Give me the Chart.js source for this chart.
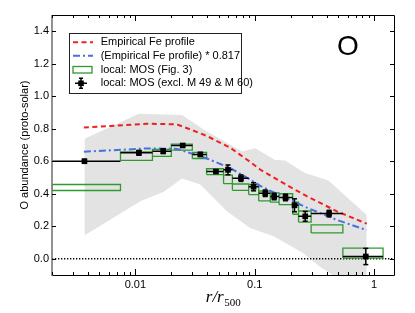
<!DOCTYPE html>
<html><head><meta charset="utf-8">
<script src="https://cdn.jsdelivr.net/npm/chart.js@4/dist/chart.umd.min.js"></script>
<style>html,body{margin:0;padding:0;background:#fff}#wrap{width:415px;height:313px}</style>
</head><body><div id="wrap"><canvas id="c" width="415" height="313"></canvas></div>
<script>
// ---- data ----
const binX   = [0.00374,0.0107,0.0171,0.0249,0.0350,0.0473,0.0597,0.0767,0.0978,0.1225,0.1455,0.181,0.2155,0.265,0.42,0.853];
const binLo  = [0.0020,0.0075,0.0139,0.0200,0.0300,0.0395,0.0548,0.0650,0.0890,0.1080,0.1350,0.1600,0.2080,0.2330,0.2970,0.548];
const binHi  = [0.0075,0.0139,0.0200,0.0300,0.0395,0.0548,0.0650,0.0890,0.1080,0.1350,0.1600,0.2080,0.2330,0.2970,0.548,1.19];
const mosY   = [0.600,0.652,0.662,0.697,0.642,0.537,0.547,0.496,0.443,0.403,0.383,0.377,0.329,0.261,0.278,0.014];
const mosErr = [0.012,0.015,0.015,0.010,0.012,0.010,0.030,0.020,0.025,0.020,0.020,0.020,0.040,0.030,0.020,0.050];
const figLo  = [0.420,0.605,0.630,0.668,0.617,0.518,0.462,0.421,0.395,0.356,0.348,0.333,0.274,0.226,0.159,0.004];
const figHi  = [0.457,0.657,0.673,0.706,0.655,0.554,0.515,0.460,0.457,0.417,0.405,0.400,0.349,0.294,0.209,0.066];
const feX    = [0.0037,0.0062,0.0125,0.0223,0.0288,0.0398,0.0624,0.0757,0.0917,0.111,0.163,0.273,0.488,0.869];
const feY    = [0.807,0.817,0.831,0.827,0.796,0.755,0.683,0.639,0.596,0.549,0.477,0.385,0.292,0.216];
const feScaledY = [0.659,0.667,0.679,0.676,0.650,0.617,0.558,0.522,0.487,0.449,0.390,0.315,0.239,0.176];
const bandUpX = [0.00374,0.0107,0.0246,0.0373,0.0782,0.101,0.148,0.180,0.264,0.414,0.869];
const bandUpY = [0.739,0.893,0.884,0.796,0.660,0.680,0.608,0.604,0.527,0.482,0.270];
const bandLoX = [0.00374,0.0110,0.0173,0.0246,0.0350,0.0585,0.0915,0.144,0.254,0.350,0.450,0.869];
const bandLoY = [0.143,0.354,0.412,0.494,0.457,0.292,0.189,0.138,0.035,-0.048,-0.100,-0.250];
const xTickValues = [0.01,0.1,1];
const xTickLabels = ['0.01','0.1','1'];
const yTickValues = [0,0.2,0.4,0.6,0.8,1.0,1.2,1.4];
const legendLabels = ['Empirical Fe profile','(Empirical Fe profile) * 0.817','local: MOS (Fig. 3)','local: MOS (excl. M 49 & M 60)'];

const SANS = "'Liberation Sans', Arial, Helvetica, sans-serif";
const pts = (xs, ys) => xs.map((x, i) => ({x, y: ys[i]}));

const hBars = [], vBars = [], caps = [], boxes = [];
binX.forEach((x, i) => {
  hBars.push({x: binLo[i], y: mosY[i]}, {x: binHi[i], y: mosY[i]}, {x: binHi[i], y: null});
  vBars.push({x, y: mosY[i] - mosErr[i]}, {x, y: mosY[i] + mosErr[i]}, {x, y: null});
  caps.push({x, y: mosY[i] - mosErr[i]}, {x, y: mosY[i] + mosErr[i]});
  boxes.push({x: binLo[i], y: figLo[i]}, {x: binHi[i], y: figLo[i]}, {x: binHi[i], y: figHi[i]},
             {x: binLo[i], y: figHi[i]}, {x: binLo[i], y: figLo[i]}, {x: binHi[i], y: null});
});

const line = (o) => Object.assign({showLine: true, pointRadius: 0, fill: false, spanGaps: false, tension: 0}, o);

const deco = {
  id: 'deco',
  afterDraw(chart) {
    const {ctx, chartArea: a, scales: {x, y}} = chart;
    ctx.save();
    // frame
    ctx.strokeStyle = '#000'; ctx.lineWidth = 1;
    ctx.beginPath();
    ctx.moveTo(a.left, a.top + 0.5); ctx.lineTo(a.right + 0.5, a.top + 0.5);
    ctx.lineTo(a.right + 0.5, a.bottom + 0.5); ctx.lineTo(a.left, a.bottom + 0.5);
    ctx.stroke();
    ctx.strokeStyle = '#777'; ctx.lineWidth = 1.6;
    ctx.beginPath(); ctx.moveTo(a.left, a.top); ctx.lineTo(a.left, a.bottom + 1); ctx.stroke();
    // inside ticks
    ctx.strokeStyle = '#000'; ctx.lineWidth = 1;
    ctx.beginPath();
    yTickValues.forEach(v => {
      const py = Math.round(y.getPixelForValue(v)) + 0.5;
      ctx.moveTo(a.left, py); ctx.lineTo(a.left + 4, py);
      ctx.moveTo(a.right, py); ctx.lineTo(a.right - 4, py);
    });
    for (let e = -3; e <= 0; e++) {
      for (let m = 1; m <= 9; m++) {
        const v = m * Math.pow(10, e);
        if (v < x.min || v > x.max) continue;
        const px = Math.round(x.getPixelForValue(v)) + 0.5;
        const len = m === 1 ? 6 : 3;
        ctx.moveTo(px, a.bottom); ctx.lineTo(px, a.bottom - len);
        ctx.moveTo(px, a.top); ctx.lineTo(px, a.top + len);
      }
    }
    ctx.stroke();
    // axis titles
    ctx.fillStyle = '#000';
    ctx.font = '11px ' + SANS;
    ctx.textAlign = 'center'; ctx.textBaseline = 'middle';
    ctx.save();
    ctx.translate(25, (a.top + a.bottom) / 2);
    ctx.rotate(-Math.PI / 2);
    ctx.fillText('O abundance (proto-solar)', 0, 0);
    ctx.restore();
    const cx = (a.left + a.right) / 2;
    ctx.font = "italic 17px 'Liberation Serif', 'Times New Roman', serif";
    const w1 = ctx.measureText('r/r').width;
    ctx.font = "11px 'Liberation Serif', 'Times New Roman', serif";
    const w2 = ctx.measureText('500').width;
    const sx = cx - (w1 + w2) / 2;
    ctx.textAlign = 'left'; ctx.textBaseline = 'alphabetic';
    ctx.font = "italic 17px 'Liberation Serif', 'Times New Roman', serif";
    ctx.fillText('r/r', sx, 302);
    ctx.font = "11px 'Liberation Serif', 'Times New Roman', serif";
    ctx.fillText('500', sx + w1 + 0.5, 306);
    // big element label
    ctx.font = '28px ' + SANS;
    ctx.textAlign = 'center'; ctx.textBaseline = 'middle';
    ctx.fillText('O', 348, 47);
    // legend
    ctx.fillStyle = '#fff';
    ctx.fillRect(69, 33, 172, 60);
    ctx.strokeStyle = '#222'; ctx.lineWidth = 1;
    ctx.strokeRect(69.5, 33.5, 172, 60);
    const rows = [42.3, 55.7, 69.7, 83.3];
    const ix0 = 73, ix1 = 93;
    ctx.lineWidth = 2; ctx.strokeStyle = '#f02020'; ctx.setLineDash([5, 3.5]);
    ctx.beginPath(); ctx.moveTo(ix0, rows[0]); ctx.lineTo(ix1, rows[0]); ctx.stroke();
    ctx.strokeStyle = '#4a6fe0'; ctx.setLineDash([7, 3, 2, 3]);
    ctx.beginPath(); ctx.moveTo(ix0, rows[1]); ctx.lineTo(ix1, rows[1]); ctx.stroke();
    ctx.setLineDash([]);
    ctx.strokeStyle = '#2f9a2f'; ctx.lineWidth = 1.3;
    ctx.strokeRect(73, 66.5, 19, 6.5);
    ctx.strokeStyle = '#000'; ctx.lineWidth = 1.5;
    ctx.beginPath();
    ctx.moveTo(75, rows[3]); ctx.lineTo(87, rows[3]);
    ctx.moveTo(81, rows[3] - 5); ctx.lineTo(81, rows[3] + 5);
    ctx.moveTo(79, rows[3] - 5); ctx.lineTo(83, rows[3] - 5);
    ctx.moveTo(79, rows[3] + 5); ctx.lineTo(83, rows[3] + 5);
    ctx.stroke();
    ctx.fillStyle = '#000';
    ctx.fillRect(78.2, rows[3] - 2.8, 5.6, 5.6);
    ctx.font = '11px ' + SANS;
    ctx.textAlign = 'left'; ctx.textBaseline = 'middle';
    legendLabels.forEach((t, i) => ctx.fillText(t, 100.7, rows[i]));
    ctx.restore();
  }
};

new Chart(document.getElementById('c'), {
  type: 'scatter',
  data: {
    datasets: [
      {label: legendLabels[3], data: pts(binX, mosY), pointStyle: 'rect', pointRadius: 4,
       backgroundColor: '#000', borderWidth: 0, showLine: false, order: 0},
      line({label: 'caps', data: caps, showLine: false, pointStyle: 'line', pointRadius: 2.5,
       borderColor: '#000', borderWidth: 1.5, order: 1}),
      line({label: 'xerr', data: hBars, borderColor: '#000', borderWidth: 1.5, order: 1}),
      line({label: 'yerr', data: vBars, borderColor: '#000', borderWidth: 1.5, order: 1}),
      line({label: legendLabels[1], data: pts(feX, feScaledY), borderColor: '#4a6fe0', borderWidth: 2,
       borderDash: [7, 3, 2, 3], order: 2}),
      line({label: legendLabels[0], data: pts(feX, feY), borderColor: '#f02020', borderWidth: 2,
       borderDash: [5, 3.5], order: 3}),
      line({label: legendLabels[2], data: boxes, borderColor: '#2f9a2f', borderWidth: 1.3, order: 4}),
      line({label: 'zero', data: [{x: 0.002, y: 0}, {x: 1.47, y: 0}], borderColor: '#000', borderWidth: 1.3,
       borderDash: [1.3, 1.7], order: 5}),
      line({label: 'bandUp', data: pts(bandUpX, bandUpY), borderWidth: 0, borderColor: 'rgba(0,0,0,0)',
       fill: '+1', backgroundColor: '#e3e3e3', order: 6}),
      line({label: 'bandLo', data: pts(bandLoX, bandLoY), borderWidth: 0, borderColor: 'rgba(0,0,0,0)', order: 7})
    ]
  },
  options: {
    responsive: false, animation: false, devicePixelRatio: 1,
    layout: {padding: {top: 15, right: 21, left: 0, bottom: 0}},
    plugins: {legend: {display: false}, tooltip: {enabled: false}},
    scales: {
      x: {type: 'logarithmic', min: 0.002, max: 1.47,
          grid: {display: false, drawTicks: false}, border: {display: false},
          afterFit: s => { s.height = 38; },
          ticks: {autoSkip: false, maxRotation: 0, padding: 3, color: '#000', font: {size: 11, family: SANS},
                  callback: (v) => { const i = xTickValues.findIndex(t => Math.abs(t - v) / t < 1e-6); return i >= 0 ? xTickLabels[i] : ''; }}},
      y: {type: 'linear', min: -0.1, max: 1.5,
          grid: {display: false, drawTicks: false}, border: {display: false},
          afterFit: s => { s.width = 52; },
          afterBuildTicks: s => { s.ticks = yTickValues.map(v => ({value: v})); },
          ticks: {padding: 3, color: '#000', font: {size: 11, family: SANS},
                  callback: (v) => Number(v).toFixed(1)}}
    }
  },
  plugins: [deco]
});
</script></body></html>
